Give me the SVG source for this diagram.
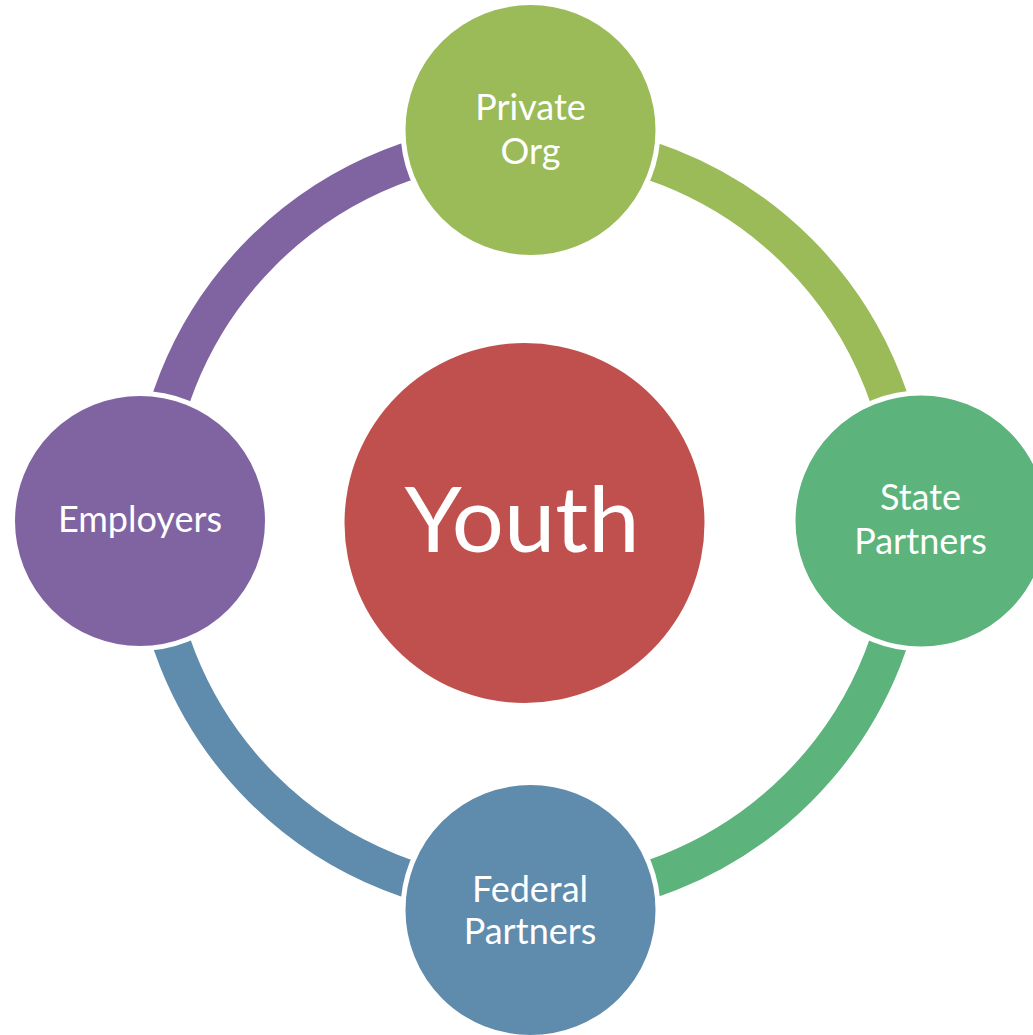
<svg xmlns="http://www.w3.org/2000/svg" width="1033" height="1035" viewBox="0 0 1033 1035">
<style>
.arc{fill:none;stroke-width:38}
.node{stroke:#fff;stroke-width:5}
.lbl{font-family:Lato,"Open Sans","Liberation Sans",sans-serif;fill:#fff;text-anchor:middle;font-size:36px}
.big{font-size:92px}
</style>
<rect width="1033" height="1035" fill="#fff"/>
<g id="connectors">
<path class="arc" stroke="#9BBB59" d="M530,141 A379,379 0 0 1 909,520"/>
<path class="arc" stroke="#5CB37B" d="M909,520 A379,379 0 0 1 530,899"/>
<path class="arc" stroke="#5F8BAD" d="M530,899 A379,379 0 0 1 151,520"/>
<path class="arc" stroke="#8064A2" d="M151,520 A379,379 0 0 1 530,141"/>
</g>
<g id="youth">
<circle cx="524.5" cy="523" r="180" fill="#C0504D"/>
<text class="lbl big" x="522" y="552">Youth</text>
</g>
<g id="private-org">
<circle class="node" cx="530.5" cy="130" r="127.5" fill="#9BBB59"/>
<text class="lbl" x="530.5" y="120">Private</text>
<text class="lbl" x="530.5" y="164">Org</text>
</g>
<g id="state-partners">
<circle class="node" cx="921" cy="521" r="128" fill="#5CB37B"/>
<text class="lbl" x="920.5" y="510">State</text>
<text class="lbl" x="920.5" y="554">Partners</text>
</g>
<g id="federal-partners">
<circle class="node" cx="530.5" cy="910" r="127.5" fill="#5F8BAD"/>
<text class="lbl" x="530" y="902">Federal</text>
<text class="lbl" x="530" y="944">Partners</text>
</g>
<g id="employers">
<circle class="node" cx="140" cy="521" r="127.5" fill="#8064A2"/>
<text class="lbl" x="140" y="532">Employers</text>
</g>
</svg>
